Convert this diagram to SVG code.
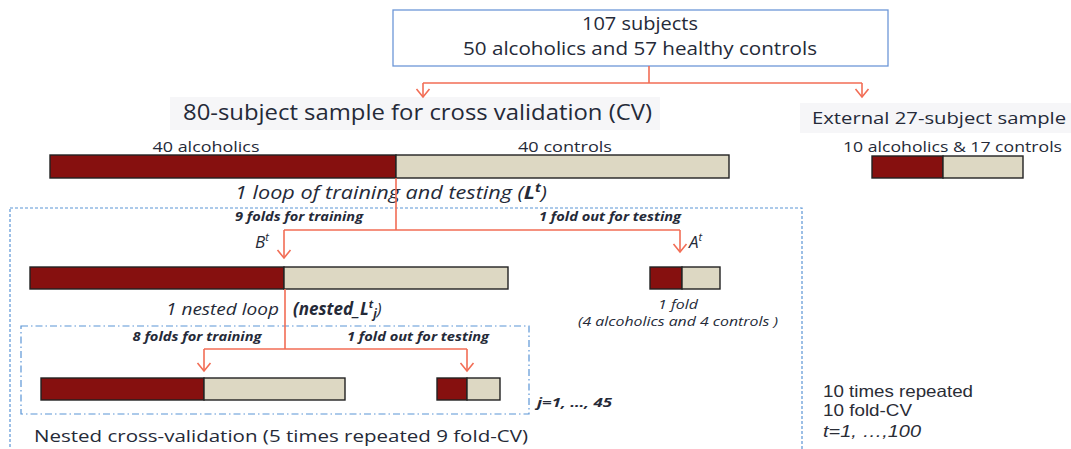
<svg xmlns="http://www.w3.org/2000/svg" width="1071" height="449" viewBox="0 0 1071 449">
  <defs>
    <marker id="arr" viewBox="-10 -8 12 16" markerWidth="12" markerHeight="16" refX="0" refY="0" orient="auto" markerUnits="userSpaceOnUse" overflow="visible">
      <path d="M-8,-6.5 L0,0 L-8,6.5" fill="none" stroke="#f26d55" stroke-width="1.6"/>
    </marker>
    <style>
      .t { font-family: "Open Sans", "Noto Sans", sans-serif; fill: #252a38; }
      .a { font-family: "Liberation Sans", Arial, sans-serif; fill: #2a2d36; }
      .it { font-style: italic; }
      .bi { font-style: italic; font-weight: bold; }
      .alc { fill: #86100f; stroke: #222; stroke-width: 1.4; }
      .ctl { fill: #ddd8c3; stroke: #222; stroke-width: 1.4; }
      .bg { fill: #f6f6f8; }
      .con { fill: none; stroke: #f26d55; stroke-width: 1.6; }
      .dash { fill: none; stroke: #5b95d6; stroke-width: 1.2; stroke-dasharray: 3 2; }
      .dashdot { fill: none; stroke: #5b95d6; stroke-width: 1.2; stroke-dasharray: 7 3 1.5 3; }
    </style>
  </defs>
  <rect width="1071" height="449" fill="#ffffff"/>

  <!-- loop frames -->
  <g id="outer-loop">
    <rect class="dash" x="10" y="208" width="792" height="260"/>
  </g>
  <g id="nested-loop">
    <rect class="dashdot" x="21" y="326" width="508" height="88"/>
  </g>

  <!-- all subjects -->
  <g id="all-subjects">
    <rect x="393" y="10" width="495" height="56" fill="#ffffff" stroke="#6d97d8" stroke-width="1.3"/>
    <text class="t" x="640" y="30" font-size="18.5" text-anchor="middle" textLength="116" lengthAdjust="spacingAndGlyphs">107 subjects</text>
    <text class="t" x="640" y="55" font-size="18.5" text-anchor="middle" textLength="354" lengthAdjust="spacingAndGlyphs">50 alcoholics and 57 healthy controls</text>
  </g>

  <!-- cross validation sample -->
  <g id="cv-sample">
    <rect class="bg" x="170" y="97" width="490" height="33"/>
    <text class="t" x="183" y="120" font-size="21" textLength="469" lengthAdjust="spacingAndGlyphs">80-subject sample for cross validation (CV)</text>
    <text class="t" x="206" y="152" font-size="15" text-anchor="middle" textLength="107" lengthAdjust="spacingAndGlyphs">40 alcoholics</text>
    <text class="t" x="565" y="152" font-size="15" text-anchor="middle" textLength="94" lengthAdjust="spacingAndGlyphs">40 controls</text>
    <rect class="alc" x="50" y="155" width="346" height="23"/>
    <rect class="ctl" x="396" y="155" width="333" height="23"/>
    <text class="t it" x="235" y="199" font-size="18" textLength="312" lengthAdjust="spacingAndGlyphs">1 loop of training  and testing (<tspan font-weight="bold">L</tspan><tspan font-weight="bold" font-size="12" dy="-7">t</tspan><tspan dy="7">)</tspan></text>
  </g>

  <!-- external sample -->
  <g id="external-sample">
    <rect class="bg" x="800" y="103" width="271" height="30"/>
    <text class="t" x="812" y="124" font-size="17" textLength="254" lengthAdjust="spacingAndGlyphs">External 27-subject sample</text>
    <text class="t" x="843" y="152" font-size="15" textLength="219" lengthAdjust="spacingAndGlyphs">10 alcoholics &amp; 17 controls</text>
    <rect class="alc" x="872" y="156" width="71" height="22"/>
    <rect class="ctl" x="943" y="156" width="80" height="22"/>
  </g>

  <!-- training folds B -->
  <g id="train-b">
    <text class="t bi" x="299" y="221" font-size="12" text-anchor="middle" textLength="128" lengthAdjust="spacingAndGlyphs">9 folds for training</text>
    <text class="t it" x="255" y="248" font-size="17">B<tspan font-size="11" dy="-7">t</tspan></text>
    <rect class="alc" x="30" y="267" width="254" height="22"/>
    <rect class="ctl" x="284" y="267" width="224" height="22"/>
    <text class="t it" x="166" y="315" font-size="17" textLength="113" lengthAdjust="spacingAndGlyphs">1 nested loop</text>
    <text class="t bi" x="293" y="315" font-size="17">(nested_L<tspan font-size="11" dy="-7">t</tspan><tspan font-size="12" dy="10">j</tspan><tspan dy="-3" font-weight="normal">)</tspan></text>
  </g>

  <!-- testing fold A -->
  <g id="test-a">
    <text class="t bi" x="610" y="221" font-size="12" text-anchor="middle" textLength="142" lengthAdjust="spacingAndGlyphs">1 fold out for testing</text>
    <text class="t it" x="689" y="248" font-size="17">A<tspan font-size="11" dy="-7">t</tspan></text>
    <rect class="alc" x="650" y="267" width="32" height="22"/>
    <rect class="ctl" x="682" y="267" width="38" height="22"/>
    <text class="t it" x="678" y="309" font-size="12" text-anchor="middle" textLength="40" lengthAdjust="spacingAndGlyphs">1 fold</text>
    <text class="t it" x="678" y="326" font-size="12" text-anchor="middle" textLength="200" lengthAdjust="spacingAndGlyphs">(4 alcoholics  and 4 controls )</text>
  </g>

  <!-- nested training / testing -->
  <g id="nested-train">
    <text class="t bi" x="197" y="341" font-size="12" text-anchor="middle" textLength="129" lengthAdjust="spacingAndGlyphs">8 folds for training</text>
    <rect class="alc" x="41" y="378" width="163" height="22"/>
    <rect class="ctl" x="204" y="378" width="141" height="22"/>
  </g>
  <g id="nested-test">
    <text class="t bi" x="418" y="341" font-size="12" text-anchor="middle" textLength="142" lengthAdjust="spacingAndGlyphs">1 fold out for testing</text>
    <rect class="alc" x="437" y="378" width="30" height="22"/>
    <rect class="ctl" x="467" y="378" width="33" height="22"/>
  </g>
  <g id="nested-label">
    <text class="t bi" x="537" y="407" font-size="13" textLength="75" lengthAdjust="spacingAndGlyphs">j=1, …, 45</text>
    <text class="t" x="34" y="442" font-size="17" textLength="494" lengthAdjust="spacingAndGlyphs">Nested cross-validation  (5 times repeated 9 fold-CV)</text>
  </g>

  <!-- repetition note -->
  <g id="repeat-note">
    <text class="a" x="823" y="397" font-size="16.5" textLength="150" lengthAdjust="spacingAndGlyphs">10 times repeated</text>
    <text class="a" x="823" y="416" font-size="16.5" textLength="89" lengthAdjust="spacingAndGlyphs">10 fold-CV</text>
    <text class="a it" x="823" y="437" font-size="16.5" textLength="98" lengthAdjust="spacingAndGlyphs">t=1,  …,100</text>
  </g>

  <!-- connectors -->
  <g id="connectors">
    <path class="con" d="M649,66 V83 M423,83 H862"/>
    <path class="con" d="M423,83 V97" marker-end="url(#arr)"/>
    <path class="con" d="M862,83 V97" marker-end="url(#arr)"/>
    <path class="con" d="M396,178 V230 M284,230 H680"/>
    <path class="con" d="M284,230 V258" marker-end="url(#arr)"/>
    <path class="con" d="M680,230 V252" marker-end="url(#arr)"/>
    <path class="con" d="M285,289 V349 M204,349 H467"/>
    <path class="con" d="M204,349 V371" marker-end="url(#arr)"/>
    <path class="con" d="M467,349 V371" marker-end="url(#arr)"/>
  </g>
</svg>
